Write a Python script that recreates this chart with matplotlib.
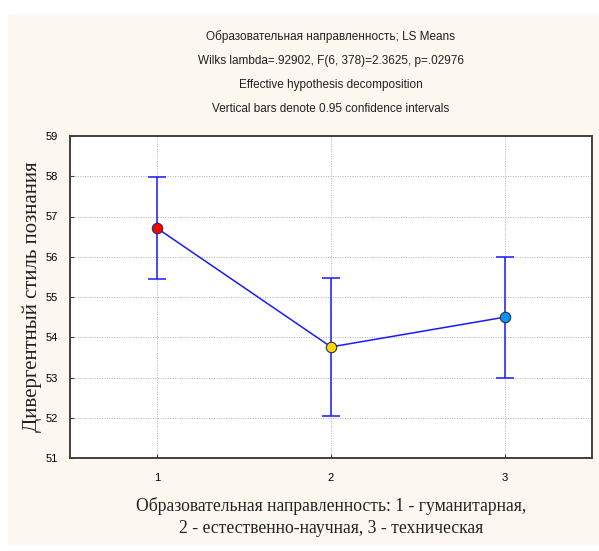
import numpy as np
import matplotlib.pyplot as plt
from matplotlib.patches import Rectangle

# LS means and 95% CI half-widths per group
groups = [1, 2, 3]
means = [56.71, 53.76, 54.50]
ci_half = [1.26, 1.71, 1.50]
point_colors = ['#ff0000', '#ffd700', '#0096ff']

title_lines = [
    'Образовательная направленность; LS Means',
    'Wilks lambda=.92902, F(6, 378)=2.3625, p=.02976',
    'Effective hypothesis decomposition',
    'Vertical bars denote 0.95 confidence intervals',
]
ylabel = 'Дивергентный стиль познания'
xlabel = 'Образовательная направленность: 1 - гуманитарная,\n2 - естественно-научная, 3 - техническая'

fig = plt.figure(figsize=(5.99, 5.51), dpi=100, facecolor='white')
W, H = 599, 551
# cream backdrop panel
fig.patches.append(Rectangle((8 / W, 6 / H), 591 / W, 531 / H, transform=fig.transFigure,
                             facecolor='#fdf8ef', edgecolor='none', zorder=-1))

ax = fig.add_axes([70 / W, 1 - 458 / H, 522 / W, 322 / H])
ax.set_zorder(2)
ax.set_facecolor('white')

ax.errorbar(groups, means, yerr=ci_half, color='#1a1aff', lw=1.1, capsize=6.5, capthick=1.1,
            zorder=2)
for g, m, c in zip(groups, means, point_colors):
    ax.plot(g, m, 'o', ms=7.5, mfc=c, mec='#333333', mew=0.8, zorder=3)

ax.set_xlim(0.5, 3.5)
ax.set_ylim(51, 59)
ax.set_xticks(groups)
ax.set_yticks(np.arange(51, 60, 1))
ax.grid(True, color='#b0b0b0', linestyle=(0, (1, 1.5)), lw=0.7)
ax.set_axisbelow(True)
for s in ax.spines.values():
    s.set_color('#404040')
    s.set_linewidth(1.4)
ax.tick_params(direction='in', length=3, labelsize=8, color='#404040', pad=9)
ax.tick_params(axis='x', pad=11)
for lab in ax.get_xticklabels() + ax.get_yticklabels():
    lab.set_family('Liberation Sans')

ax.set_ylabel(ylabel, family='Liberation Serif', fontsize=15, color='#202020', labelpad=2)
ax.set_xlabel(xlabel, family='Liberation Serif', fontsize=12.7, color='#202020',
              labelpad=10, linespacing=1.4)

for i, t in enumerate(title_lines):
    fig.text(331 / W, 1 - (37 + 24 * i) / H, t, ha='center', va='center',
             family='Liberation Sans', fontsize=8.5, color='#202020')

fig.savefig('out.png', dpi=100, facecolor=fig.get_facecolor())
